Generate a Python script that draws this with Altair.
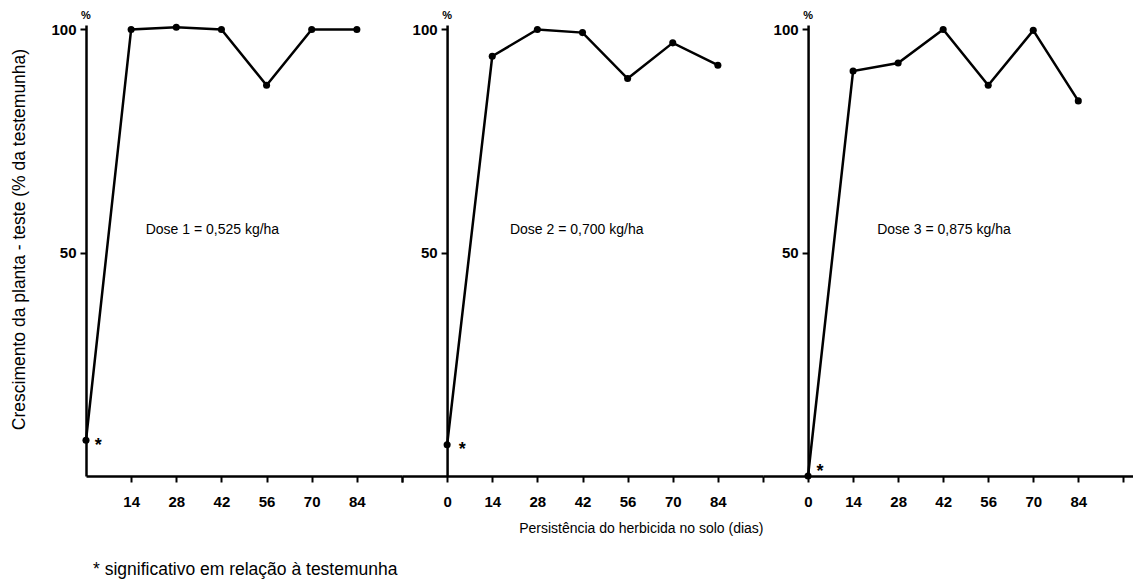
import altair as alt
import pandas as pd

# ---- data ----
days = [0, 14, 28, 42, 56, 70, 84]
dose1 = [8, 100, 100.5, 100, 87.5, 100, 100]
dose2 = [7, 94, 100, 99.3, 89, 97, 92]
dose3 = [0, 90.7, 92.5, 100, 87.5, 99.8, 84]
dose_labels = ["Dose 1 = 0,525 kg/ha", "Dose 2 = 0,700 kg/ha", "Dose 3 = 0,875 kg/ha"]
label_day = [18.5, 19.5, 21.5]
label_val = [55, 55, 55]
star_day = [3.8, 4.7, 3.7]
star_val = [7.8, 7.0, 2.0]

y_title = "Crescimento da planta - teste (% da testemunha)"
x_title = "Persistência do herbicida no solo (dias)"
footnote = "* significativo em relação à testemunha"

PX = 3.22          # pixels per day
H = 451            # plot height
FONT = "Liberation Sans"


def panel(idx, vals, xmin, xmax, xticks, first=False, xtitle=False):
    df = pd.DataFrame({"dia": days, "valor": vals})
    w = round((xmax - xmin) * PX)
    xs = alt.Scale(domain=[xmin, xmax], nice=False, zero=False)
    ys = alt.Scale(domain=[0, 101], nice=False, zero=True)

    xaxis_kw = dict(
        values=xticks,
        labelExpr="(datum.value < 0 || datum.value > 90) ? '' : datum.label",
        grid=False, domainColor="black", domainWidth=2.5,
        tickColor="black", tickWidth=2, tickSize=6,
        labelFont=FONT, labelFontSize=15, labelFontWeight="bold", labelColor="black",
        labelPadding=12,
    )
    if xtitle:
        xaxis_kw.update(title=x_title, titleAnchor="end", titleFont=FONT,
                        titleFontSize=14, titleFontWeight="normal",
                        titleColor="black", titlePadding=12)
    else:
        xaxis_kw.update(title=None)

    yaxis_kw = dict(
        values=[50, 100], grid=False, domainColor="black", domainWidth=2.5,
        tickColor="black", tickWidth=2, tickSize=6,
        labelFont=FONT, labelFontSize=15, labelFontWeight="bold", labelColor="black",
        labelPadding=4,
    )
    if first:
        yaxis_kw.update(title=y_title, titleFont=FONT, titleFontSize=17.5,
                        titleFontWeight="normal", titleColor="black", titlePadding=22,
                        titleY=214)
    else:
        yaxis_kw.update(title=None, offset=-(0 - xmin) * PX)

    base = alt.Chart(df).encode(
        x=alt.X("dia:Q", scale=xs, axis=alt.Axis(**xaxis_kw)),
        y=alt.Y("valor:Q", scale=ys, axis=alt.Axis(**yaxis_kw)),
    )
    line = base.mark_line(color="black", strokeWidth=2.5)
    pts = base.mark_circle(color="black", size=50, opacity=1)

    ann = pd.DataFrame({"dia": [label_day[idx]], "valor": [label_val[idx]],
                        "txt": [dose_labels[idx]]})
    ann_t = alt.Chart(ann).mark_text(align="left", baseline="middle", font=FONT,
                                     fontSize=14, color="black").encode(
        x=alt.X("dia:Q", scale=xs), y=alt.Y("valor:Q", scale=ys), text="txt:N")

    st = pd.DataFrame({"dia": [star_day[idx]], "valor": [star_val[idx]], "txt": ["*"]})
    st_t = alt.Chart(st).mark_text(align="center", baseline="middle", font=FONT,
                                   fontSize=18, fontWeight="bold", dy=5,
                                   color="black").encode(
        x=alt.X("dia:Q", scale=xs), y=alt.Y("valor:Q", scale=ys), text="txt:N")

    pc = pd.DataFrame({"dia": [0], "valor": [100], "txt": ["%"]})
    pc_t = alt.Chart(pc).mark_text(align="center", baseline="bottom", font=FONT,
                                   fontSize=11, fontWeight="bold", dy=-8,
                                   color="black").encode(
        x=alt.X("dia:Q", scale=xs), y=alt.Y("valor:Q", scale=ys), text="txt:N")

    return alt.layer(line, pts, ann_t, st_t, pc_t).properties(width=w, height=H)


p1 = panel(0, dose1, 0, 98, [14, 28, 42, 56, 70, 84, 98], first=True)
p2 = panel(1, dose2, -14, 98, [-14, 0, 14, 28, 42, 56, 70, 84], xtitle=True)
p3 = panel(2, dose3, -14, 101, [-14, 0, 14, 28, 42, 56, 70, 84, 98])

chart = alt.hconcat(p1, p2, p3, spacing=0, bounds="flush").properties(
    title=alt.TitleParams(footnote, orient="bottom", anchor="start", frame="group",
                          font=FONT, fontSize=17.5, fontWeight="normal",
                          color="black", offset=26, dx=7),
    padding={"left": 2, "top": 2, "right": 0, "bottom": 0},
    background="white",
).configure_view(strokeWidth=0, stroke="transparent")

chart.save("out.html", embed_options={"renderer": "svg", "actions": False})
